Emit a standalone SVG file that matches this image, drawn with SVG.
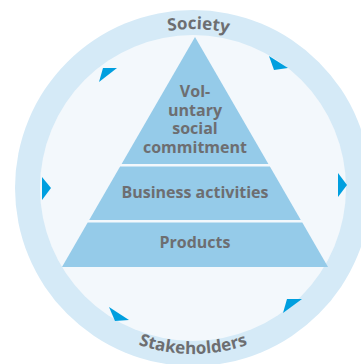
<svg xmlns="http://www.w3.org/2000/svg" xmlns:xlink="http://www.w3.org/1999/xlink" width="361" height="364" viewBox="0 0 361 364">
<style>
.lbl{font-family:"Open Sans","Noto Sans","DejaVu Sans",sans-serif;font-weight:bold;fill:#6d6e71;text-anchor:middle}
.tier{fill:#95cbe9}
.arr{fill:#009fdf}
</style>
<defs>
<path id="topArc" d="M34,188 A159,159 0 0 1 352,188"/>
<path id="botArc" d="M27,188 A166,166 0 0 0 359,188"/>
</defs>
<rect width="361" height="364" fill="#ffffff"/>
<g id="ring">
<circle cx="193" cy="188" r="178" fill="#d5eaf7"/>
<circle cx="193" cy="188" r="153" fill="#f3f8fc"/>
<text class="lbl" font-size="17"><textPath xlink:href="#topArc" href="#topArc" startOffset="255">Society</textPath></text>
<text class="lbl" font-size="17"><textPath xlink:href="#botArc" href="#botArc" startOffset="50%">Stakeholders</textPath></text>
</g>
<g id="connectors">
<polygon class="arr" points="103,68 117,68 99,82"/>
<polygon class="arr" points="269,56 288,68 274,70"/>
<polygon class="arr" points="42,177 51,188 42,200"/>
<polygon class="arr" points="338,173 347,185 338,197"/>
<polygon class="arr" points="109,307 129,320 115,321"/>
<polygon class="arr" points="287,299 302,299 283,313"/>
</g>
<g id="tier-commitment">
<polygon class="tier" points="195,37 268.4,164 121.6,164"/>
<text class="lbl" font-size="16" x="195" y="97">Vol-</text>
<text class="lbl" font-size="16" x="195" y="115.5">untary</text>
<text class="lbl" font-size="16" x="195" y="134">social</text>
<text class="lbl" font-size="16" x="195" y="152.5">commitment</text>
</g>
<g id="tier-business">
<polygon class="tier" points="120.1,166.5 269.9,166.5 300.8,220 89.2,220"/>
<text class="lbl" font-size="16" x="195" y="198">Business activities</text>
</g>
<g id="tier-products">
<polygon class="tier" points="87.7,222.5 302.3,222.5 328,267 62,267"/>
<text class="lbl" font-size="16" x="195" y="248">Products</text>
</g>
</svg>
